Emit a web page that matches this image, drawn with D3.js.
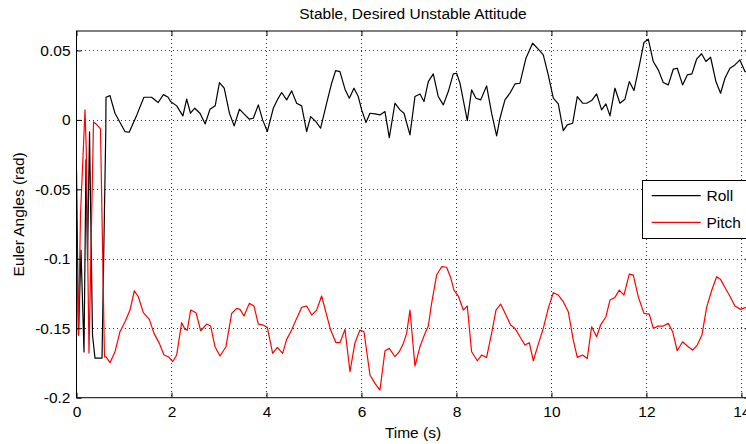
<!DOCTYPE html>
<html>
<head>
<meta charset="utf-8">
<script src="https://cdn.jsdelivr.net/npm/d3@7"></script>
<style>
  html, body { margin: 0; padding: 0; background: #fff; }
  svg { display: block; }
  text { font-family: "Liberation Sans", Arial, Helvetica, sans-serif; fill: #000; }
</style>
</head>
<body>
<svg id="chart" width="746" height="444"></svg>
<script>
// ---- data ----
const title = "Stable, Desired Unstable Attitude";
const xLabel = "Time (s)";
const yLabel = "Euler Angles (rad)";
const seriesNames = ["Roll", "Pitch"];
const seriesColors = ["#000000", "#ff0000"];

const xTicks = [0, 2, 4, 6, 8, 10, 12, 14];
const xTickLabels = ["0", "2", "4", "6", "8", "10", "12", "14"];
const yTicks = [-0.2, -0.15, -0.1, -0.05, 0, 0.05];
const yTickLabels = ["-0.2", "-0.15", "-0.1", "-0.05", "0", "0.05"];
const xDomain = [0, 14.17];
const yDomain = [-0.2, 0.064];

const rollT = [0, 0.042, 0.095, 0.158, 0.2, 0.232, 0.274, 0.337, 0.389, 0.537, 0.617, 0.621,
  0.705, 0.81, 1.02, 1.11, 1.27, 1.42, 1.58, 1.72, 1.83, 1.93, 1.98, 2.11, 2.24, 2.32, 2.40, 2.49,
  2.60, 2.71, 2.81, 2.92, 3.01, 3.11, 3.22, 3.32, 3.43, 3.547, 3.639, 3.723, 3.828, 3.919, 4.018,
  4.144, 4.228, 4.319, 4.425, 4.530, 4.635, 4.740, 4.846, 4.930, 5.042, 5.140, 5.267, 5.372, 5.456,
  5.547, 5.653, 5.744, 5.842, 5.933, 6.004, 6.095, 6.179, 6.284, 6.389, 6.495, 6.586, 6.705, 6.811,
  6.895, 7.021, 7.126, 7.232, 7.316, 7.407, 7.512, 7.617, 7.723, 7.828, 7.933, 8.004, 8.074, 8.228,
  8.319, 8.411, 8.509, 8.635, 8.740, 8.846, 8.916, 9.021, 9.126, 9.232, 9.337, 9.463, 9.603, 9.723,
  9.828, 9.933, 10.039, 10.144, 10.249, 10.333, 10.446, 10.544, 10.656, 10.740, 10.846, 10.951,
  11.056, 11.147, 11.232, 11.337, 11.442, 11.547, 11.639, 11.737, 11.863, 11.947, 12.039, 12.144,
  12.249, 12.354, 12.460, 12.565, 12.649, 12.761, 12.860, 12.958, 13.056, 13.161, 13.253, 13.351,
  13.463, 13.561, 13.653, 13.758, 13.863, 13.968, 14.074, 14.17];
const rollV = [-0.036, -0.1549, -0.0937, -0.1671, -0.0288, -0.1009, -0.0086, -0.1549, -0.1715, -0.1715, -0.0072, 0.0163,
  0.0175, 0.0048, -0.0084, -0.0089, 0.0036, 0.0163, 0.0163, 0.0125, 0.0182, 0.0163, 0.0132, 0.0101, 0.0029, 0.0149, 0.0048, 0.0084,
  0.0048, -0.0029, 0.0077, 0.0101, 0.0269, 0.0228, 0.0048, -0.0043, 0.0077, 0.0036, 0.0005, 0.0012, 0.0108, 0.0, -0.0084,
  0.0084, 0.0144, 0.0197, 0.0144, 0.0209, 0.0120, 0.0101, -0.0084, 0.0024, -0.0012, -0.0060, 0.0120, 0.0264, 0.0355,
  0.0348, 0.0221, 0.0156, 0.0228, 0.0168, 0.0072, -0.0019, 0.0048, 0.0043, 0.0036, 0.0060, -0.0127, 0.0120, 0.0072,
  0.0048, -0.0108, 0.0168, 0.0187, 0.0132, 0.0276, 0.0331, 0.0168, 0.0108, 0.0204, 0.0331, 0.0336, 0.0264, -0.0005,
  0.0216, 0.0156, 0.0144, 0.0245, 0.0048, -0.0115, 0.0012, 0.0144, 0.0192, 0.0259, 0.0264, 0.0444, 0.0552, 0.0509,
  0.0468, 0.0324, 0.0156, 0.0115, -0.0077, -0.0036, -0.0024, 0.0168, 0.0120, 0.0120, 0.0139, 0.0187,
  0.0072, 0.0115, 0.0029, 0.0228, 0.0120, 0.0149, 0.0276, 0.0211, 0.0413, 0.0557, 0.0581, 0.0420,
  0.0360, 0.0269, 0.0252, 0.0365, 0.0372, 0.0252, 0.0324, 0.0331, 0.0437, 0.0476, 0.0420, 0.0451,
  0.0276, 0.0192, 0.0300, 0.0372, 0.0396, 0.0432, 0.0348, 0.0335];

const pitchT = [0, 0.042, 0.084, 0.179, 0.206, 0.263, 0.358, 0.411, 0.505, 0.589, 0.621,
  0.705, 0.811, 0.916, 1.021, 1.126, 1.218, 1.302, 1.407, 1.533, 1.632, 1.744, 1.842, 1.933, 2.025,
  2.109, 2.214, 2.284, 2.333, 2.404, 2.516, 2.614, 2.740, 2.825, 2.916, 3.021, 3.147, 3.267, 3.372,
  3.442, 3.526, 3.639, 3.737, 3.828, 3.933, 4.018, 4.130, 4.228, 4.340, 4.425, 4.530, 4.635, 4.740,
  4.846, 4.951, 5.056, 5.161, 5.267, 5.351, 5.463, 5.547, 5.653, 5.758, 5.863, 5.968, 6.053, 6.179,
  6.284, 6.389, 6.495, 6.586, 6.705, 6.796, 6.881, 6.951, 7.021, 7.126, 7.232, 7.337, 7.407, 7.477,
  7.582, 7.688, 7.793, 7.877, 7.947, 8.039, 8.144, 8.228, 8.319, 8.439, 8.530, 8.635, 8.740, 8.832,
  8.930, 9.042, 9.140, 9.232, 9.337, 9.442, 9.533, 9.618, 9.723, 9.828, 9.933, 10.039, 10.144,
  10.249, 10.354, 10.460, 10.544, 10.656, 10.754, 10.846, 10.951, 11.035, 11.147, 11.232, 11.337,
  11.428, 11.526, 11.639, 11.723, 11.828, 11.947, 12.060, 12.144, 12.249, 12.354, 12.460, 12.551,
  12.649, 12.761, 12.860, 12.972, 13.070, 13.168, 13.267, 13.372, 13.477, 13.561, 13.653, 13.744,
  13.863, 13.982, 14.095, 14.17];
const pitchV = [-0.0829, -0.1549, -0.0684, 0.0072, -0.0216, -0.1679, -0.0014, -0.0029, -0.0065, -0.1707, -0.1705,
  -0.1748, -0.1669, -0.1525, -0.1453, -0.1369, -0.1230, -0.1273, -0.1388, -0.1436, -0.1537, -0.1609, -0.1693, -0.1705, -0.1741,
  -0.1693, -0.1460, -0.1508, -0.1513, -0.1369, -0.1388, -0.1518, -0.1470, -0.1484, -0.1633, -0.1700, -0.1633, -0.1393, -0.1357,
  -0.1364, -0.1412, -0.1321, -0.1340, -0.1470, -0.1477, -0.1494, -0.1681, -0.1638, -0.1681, -0.1580, -0.1513, -0.1429, -0.1350,
  -0.1340, -0.1405, -0.1369, -0.1268, -0.1405, -0.1513, -0.1604, -0.1604, -0.1508, -0.1813, -0.1604, -0.1513, -0.1525, -0.1837,
  -0.1897, -0.1945, -0.1662, -0.1645, -0.1705, -0.1669, -0.1609, -0.1537, -0.1369, -0.1772, -0.1633, -0.1537, -0.1484, -0.1321,
  -0.1117, -0.1057, -0.1061, -0.1134, -0.1225, -0.1268, -0.1369, -0.1340, -0.1669, -0.1734, -0.1693, -0.1710, -0.1537, -0.1369,
  -0.1326, -0.1405, -0.1477, -0.1501, -0.1561, -0.1621, -0.1604, -0.1734, -0.1614, -0.1501, -0.1357, -0.1244, -0.1261,
  -0.1309, -0.1381, -0.1585, -0.1710, -0.1693, -0.1717, -0.1489, -0.1561, -0.1477, -0.1417, -0.1297, -0.1278,
  -0.1225, -0.1261, -0.1110, -0.1117, -0.1273, -0.1393, -0.1398, -0.1501, -0.1484, -0.1484, -0.1465, -0.1525,
  -0.1662, -0.1597, -0.1628, -0.1657, -0.1621, -0.1549, -0.1350, -0.1230, -0.1129, -0.1148, -0.1206, -0.1261,
  -0.1340, -0.1364, -0.1350, -0.1352];

// ---- layout ----
const plot = { left: 76.5, right: 749.5, top: 31, bottom: 397.7 };
const fontSize = 15.5;

const svg = d3.select("#chart");
svg.append("rect").attr("width", 746).attr("height", 444).attr("fill", "#fff");

const x = d3.scaleLinear().domain(xDomain).range([plot.left, plot.right]);
const y = d3.scaleLinear().domain(yDomain).range([plot.bottom, plot.top]);

// grid
const grid = svg.append("g").attr("stroke", "#333").attr("stroke-width", 1)
  .attr("stroke-dasharray", "1,3").attr("shape-rendering", "crispEdges");
grid.selectAll("line.v").data(xTicks.filter(d => d > xDomain[0])).join("line")
  .attr("class", "v")
  .attr("x1", d => Math.round(x(d)) + 0.5).attr("x2", d => Math.round(x(d)) + 0.5)
  .attr("y1", plot.top).attr("y2", plot.bottom);
grid.selectAll("line.h").data(yTicks.filter(d => d > yDomain[0])).join("line")
  .attr("class", "h")
  .attr("y1", d => Math.round(y(d)) + 0.5).attr("y2", d => Math.round(y(d)) + 0.5)
  .attr("x1", plot.left).attr("x2", plot.right);

// clip
svg.append("clipPath").attr("id", "clip").append("rect")
  .attr("x", plot.left).attr("y", plot.top)
  .attr("width", plot.right - plot.left).attr("height", plot.bottom - plot.top);

const line = d3.line().x(d => x(d[0])).y(d => y(d[1]));
const rollData = rollT.map((t, i) => [t, rollV[i]]);
const pitchData = pitchT.map((t, i) => [t, pitchV[i]]);

const lines = svg.append("g").attr("clip-path", "url(#clip)");
lines.append("path").datum(rollData).attr("d", line)
  .attr("fill", "none").attr("stroke", seriesColors[0]).attr("stroke-width", 1.2)
  .attr("stroke-linejoin", "round");
lines.append("path").datum(pitchData).attr("d", line)
  .attr("fill", "none").attr("stroke", seriesColors[1]).attr("stroke-width", 1.2)
  .attr("stroke-linejoin", "round");

// axes
const fmtX = d => xTickLabels[xTicks.indexOf(d)];
const fmtY = d => yTickLabels[yTicks.indexOf(d)];

function styleAxis(g) {
  g.select(".domain").remove();
  g.selectAll(".tick line").attr("stroke", "#000");
  g.selectAll(".tick text").attr("font-size", fontSize)
    .attr("font-family", "'Liberation Sans', Arial, Helvetica, sans-serif").attr("fill", "#000");
}

svg.append("g").attr("transform", `translate(0,${plot.bottom})`)
  .call(d3.axisBottom(x).tickValues(xTicks).tickFormat(fmtX).tickSize(-5).tickPadding(8))
  .call(styleAxis);
svg.append("g").attr("transform", `translate(0,${plot.top})`)
  .call(d3.axisTop(x).tickValues(xTicks).tickFormat("").tickSize(-5))
  .call(styleAxis);
svg.append("g").attr("transform", `translate(${plot.left},0)`)
  .call(d3.axisLeft(y).tickValues(yTicks).tickFormat(fmtY).tickSize(-5).tickPadding(6))
  .call(styleAxis);
svg.append("g").attr("transform", `translate(${plot.right},0)`)
  .call(d3.axisRight(y).tickValues(yTicks).tickFormat("").tickSize(-5))
  .call(styleAxis);

// box
svg.append("rect").attr("x", plot.left).attr("y", plot.top)
  .attr("width", plot.right - plot.left).attr("height", plot.bottom - plot.top)
  .attr("fill", "none").attr("stroke", "#000").attr("stroke-width", 1);

// labels
svg.append("text").attr("x", (plot.left + plot.right) / 2).attr("y", 18.5)
  .attr("text-anchor", "middle").attr("font-size", fontSize).text(title);
svg.append("text").attr("x", (plot.left + plot.right) / 2).attr("y", 438)
  .attr("text-anchor", "middle").attr("font-size", fontSize).text(xLabel);
svg.append("text").attr("transform", `translate(24,${(plot.top + plot.bottom) / 2}) rotate(-90)`)
  .attr("text-anchor", "middle").attr("font-size", fontSize).text(yLabel);

// legend
const leg = svg.append("g");
leg.append("rect").attr("x", 642.5).attr("y", 180.5).attr("width", 115).attr("height", 58)
  .attr("fill", "#fff").attr("stroke", "#000").attr("stroke-width", 1);
const legY = [195.7, 222.3];
seriesNames.forEach((name, i) => {
  leg.append("line").attr("x1", 651.7).attr("x2", 700.7).attr("y1", legY[i]).attr("y2", legY[i])
    .attr("stroke", seriesColors[i]).attr("stroke-width", 1.2);
  leg.append("text").attr("x", 706.5).attr("y", legY[i]).attr("dy", "0.36em")
    .attr("font-size", fontSize).text(name);
});
</script>
</body>
</html>
